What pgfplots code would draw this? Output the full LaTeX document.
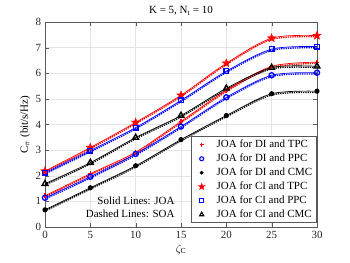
\documentclass[border=0pt]{standalone}
\usepackage{pgfplots}
\usepackage{pgfplotstable}
\usepackage{fontspec}
\setmainfont{Liberation Serif}
\pgfplotsset{compat=1.18}
\pgfdeclareplotmark{fstar}{%
  \pgfpathmoveto{\pgfpointpolar{90}{\pgfplotmarksize}}%
  \pgfpathlineto{\pgfpointpolar{126}{0.42\pgfplotmarksize}}%
  \pgfpathlineto{\pgfpointpolar{162}{\pgfplotmarksize}}%
  \pgfpathlineto{\pgfpointpolar{198}{0.42\pgfplotmarksize}}%
  \pgfpathlineto{\pgfpointpolar{234}{\pgfplotmarksize}}%
  \pgfpathlineto{\pgfpointpolar{270}{0.42\pgfplotmarksize}}%
  \pgfpathlineto{\pgfpointpolar{306}{\pgfplotmarksize}}%
  \pgfpathlineto{\pgfpointpolar{342}{0.42\pgfplotmarksize}}%
  \pgfpathlineto{\pgfpointpolar{18}{\pgfplotmarksize}}%
  \pgfpathlineto{\pgfpointpolar{54}{0.42\pgfplotmarksize}}%
  \pgfpathclose
  \pgfusepathqfillstroke}
\pgfplotstableread{
x  ditpc dippc dicmc citpc cippc cicmc
0  1.22  1.14  0.67  2.18  2.12  1.69
5  2.08  1.96  1.53  3.10  2.98  2.51
10 2.92  2.85  2.39  4.08  3.88  3.49
15 4.12  3.92  3.41  5.14  4.94  4.35
20 5.33  5.06  4.35  6.39  6.08  5.41
25 6.27  5.92  5.20  7.37  6.94  6.22
30 6.43  6.02  5.30  7.47  7.04  6.27
}\joa
\pgfplotstableread{
x  ditpc dippc dicmc citpc cippc cicmc
0  1.17  1.09  0.62  2.13  2.07  1.64
5  2.03  1.91  1.48  3.05  2.93  2.46
10 2.87  2.80  2.34  4.03  3.83  3.44
15 4.07  3.87  3.36  5.09  4.89  4.30
20 5.28  5.01  4.30  6.34  6.03  5.36
25 6.22  5.87  5.15  7.32  6.89  6.17
30 6.38  5.97  5.25  7.42  6.99  6.22
}\soa
\definecolor{axgray}{gray}{0.15}
\begin{document}
\fontsize{11}{13}\selectfont
\begin{tikzpicture}[x=1bp,y=1bp]
\begin{axis}[
  scale only axis, width=272bp, height=205bp,
  xmin=0, xmax=30, ymin=0, ymax=8,
  xtick={0,5,...,30}, ytick={0,1,...,8},
  grid=major, grid style={gray!20, line width=0.4pt},
  axis line style={gray!70!black, line width=0.5pt},
  tick style={gray!70!black},
  tick align=inside,
  ticklabel style={font=\fontsize{11}{13}\selectfont, text=axgray},
  /pgf/number format/assume math mode=true,
  title={K = 5, N\textsubscript{t} = 10},
  title style={font=\fontsize{11}{13}\selectfont, yshift=-3bp},
  xlabel={$\zeta_{\mathrm{C}}$},
  ylabel={C\textsubscript{$\pi$} (bit/s/Hz)},
  label style={font=\fontsize{11}{13}\selectfont},
  xlabel style={yshift=1bp},
  ylabel style={yshift=-2bp},
  legend style={at={(1,0)}, anchor=south east, xshift=-1bp, yshift=4bp,
    font=\fontsize{11}{12}\selectfont, draw=gray!70!black, line width=0.5pt,
    row sep=0.6bp, inner sep=1.5bp},
  legend cell align=left,
  legend image code/.code={\path[draw=none] (0bp,0bp) -- (22bp,0bp);
    \draw[#1, only marks] plot coordinates {(9bp,0bp)};},
]
% SOA dotted
\addplot[red, densely dotted, line width=1.3pt, smooth, forget plot] table[x=x,y=ditpc]{\soa};
\addplot[blue, densely dotted, line width=1.3pt, smooth, forget plot] table[x=x,y=dippc]{\soa};
\addplot[black, densely dotted, line width=1.3pt, smooth, forget plot] table[x=x,y=dicmc]{\soa};
\addplot[red, densely dotted, line width=1.3pt, smooth, forget plot] table[x=x,y=citpc]{\soa};
\addplot[blue, densely dotted, line width=1.3pt, smooth, forget plot] table[x=x,y=cippc]{\soa};
\addplot[black, densely dotted, line width=1.3pt, smooth, forget plot] table[x=x,y=cicmc]{\soa};
% JOA solid
\addplot[red, line width=0.7pt, smooth, mark=+, mark size=2.5pt, mark options={line width=1.2pt}, forget plot] table[x=x,y=ditpc]{\joa};
\addplot[blue, line width=0.7pt, smooth, mark=o, mark size=2.6pt, mark options={line width=1.3pt}, forget plot] table[x=x,y=dippc]{\joa};
\addplot[black, line width=0.7pt, smooth, mark=*, mark size=2.2pt, forget plot] table[x=x,y=dicmc]{\joa};
\addplot[red, line width=0.7pt, smooth, mark=fstar, mark size=4.5pt, mark options={fill=red, line width=0.3pt}, forget plot] table[x=x,y=citpc]{\joa};
\addplot[blue, line width=0.7pt, smooth, mark=square, mark size=2.4pt, mark options={line width=1.3pt}, forget plot] table[x=x,y=cippc]{\joa};
\addplot[black, line width=0.7pt, smooth, mark=triangle, mark size=3.3pt, mark options={line width=1.4pt}, forget plot] table[x=x,y=cicmc]{\joa};
% legend
\addlegendimage{red, only marks, mark=+, mark size=2pt, mark options={line width=1pt}}
\addlegendentry{JOA for DI and TPC}
\addlegendimage{blue, only marks, mark=o, mark size=2pt, mark options={line width=1.1pt}}
\addlegendentry{JOA for DI and PPC}
\addlegendimage{black, only marks, mark=*, mark size=1.7pt}
\addlegendentry{JOA for DI and CMC}
\addlegendimage{red, only marks, mark=fstar, mark size=3.6pt, mark options={fill=red, line width=0.3pt}}
\addlegendentry{JOA for CI and TPC}
\addlegendimage{blue, only marks, mark=square, mark size=1.8pt, mark options={line width=1.1pt}}
\addlegendentry{JOA for CI and PPC}
\addlegendimage{black, only marks, mark=triangle, mark size=2.4pt, mark options={line width=1.1pt}}
\addlegendentry{JOA for CI and CMC}
\node[anchor=east, inner sep=0pt, font=\fontsize{11}{13}\selectfont] at (axis cs:14.3,1.02) {Solid Lines: JOA};
\node[anchor=east, inner sep=0pt, font=\fontsize{11}{13}\selectfont] at (axis cs:14.3,0.51) {Dashed Lines: SOA};
\end{axis}
\pgfresetboundingbox
\path (current axis.south west) ++(-45bp,-36bp) rectangle ([shift={(33bp,22bp)}]current axis.north east);
\end{tikzpicture}
\end{document}
